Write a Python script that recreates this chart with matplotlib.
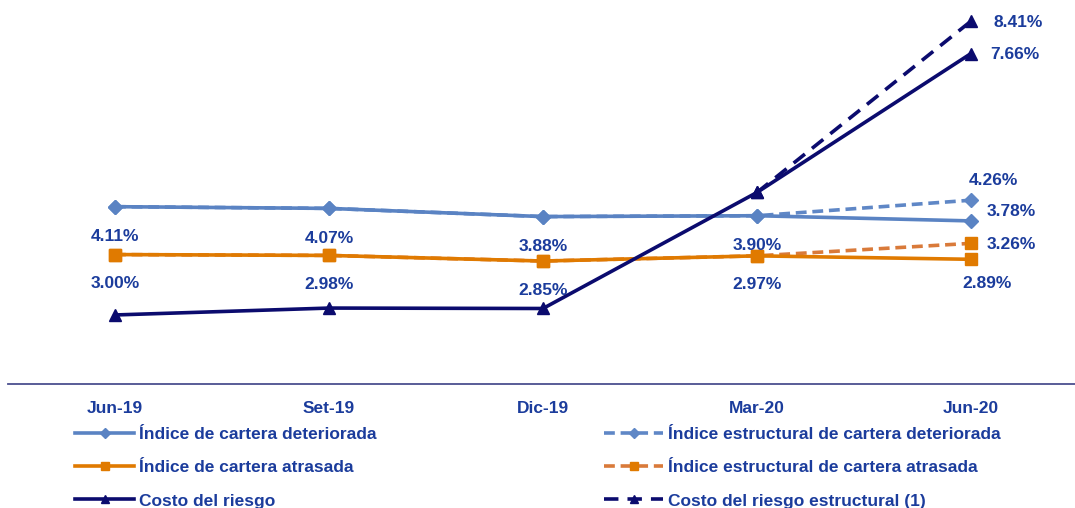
import matplotlib
matplotlib.use("Agg")
import matplotlib.pyplot as plt
import numpy as np

periods = ["Jun-19", "Set-19", "Dic-19", "Mar-20", "Jun-20"]
deteriorada = [4.11, 4.07, 3.88, 3.90, 3.78]
deteriorada_estr = [4.11, 4.07, 3.88, 3.90, 4.26]
atrasada = [3.00, 2.98, 2.85, 2.97, 2.89]
atrasada_estr = [3.00, 2.98, 2.85, 2.97, 3.26]
costo = [1.60, 1.76, 1.75, 4.44, 7.66]
costo_estr = [np.nan, np.nan, np.nan, 4.44, 8.41]

names_main = ["Índice de cartera deteriorada", "Índice de cartera atrasada", "Costo del riesgo"]
names_estr = ["Índice estructural de cartera deteriorada", "Índice estructural de cartera atrasada",
              "Costo del riesgo estructural (1)"]

plt.rcParams["font.family"] = ["Liberation Sans", "DejaVu Sans"]
TXT = "#1B3C9C"
C_DET = "#5A83C3"
C_DET_E = "#5F87C6"
C_ATR = "#E07A00"
C_ATR_E = "#D97A3A"
C_COS = "#0B0B6E"
FS = 12.5

fig = plt.figure(figsize=(10.75, 5.08), dpi=100)
ax = fig.add_axes([8 / 1075, 124 / 508, 1070 / 1075, 384 / 508])
x = np.arange(len(periods))

lw = 2.6
h_det, = ax.plot(x, deteriorada, color=C_DET, lw=lw, marker="D", ms=6.8, zorder=3)
h_det_e, = ax.plot(x, deteriorada_estr, color=C_DET_E, lw=lw, ls=(0, (3, 1.6)), marker="D", ms=6.8, zorder=2)
h_atr, = ax.plot(x, atrasada, color=C_ATR, lw=lw, marker="s", ms=8.5, zorder=3)
h_atr_e, = ax.plot(x, atrasada_estr, color=C_ATR_E, lw=lw, ls=(0, (3, 1.6)), marker="s", ms=8.5,
                   markerfacecolor=C_ATR, markeredgecolor=C_ATR, zorder=2)
h_cos, = ax.plot(x, costo, color=C_COS, lw=lw, marker="^", ms=8, zorder=5)
h_cos_e, = ax.plot(x, costo_estr, color=C_COS, lw=lw, ls=(0, (4, 2.5)), marker="^", ms=8, zorder=4)

ax.set_xlim(-0.5, 4.5)
ax.set_ylim(0, 8.9)

lab = dict(color=TXT, fontsize=FS, fontweight="bold")
pt2 = 1 / 43.1  # data units per pixel
for i in range(4):
    ax.text(x[i], deteriorada[i] - 30 * pt2, f"{deteriorada[i]:.2f}%", ha="center", va="center", **lab)
    ax.text(x[i], atrasada[i] - 29 * pt2, f"{atrasada[i]:.2f}%", ha="center", va="center", **lab)

dx = 16 / 214
ax.text(x[4] + dx, deteriorada[4] + 9 * pt2, f"{deteriorada[4]:.2f}%", ha="left", va="center", **lab)
ax.text(x[4] + 22 / 214, deteriorada_estr[4] + 20 * pt2, f"{deteriorada_estr[4]:.2f}%", ha="center", va="center", **lab)
ax.text(x[4] + dx, atrasada_estr[4] - 1 * pt2, f"{atrasada_estr[4]:.2f}%", ha="left", va="center", **lab)
ax.text(x[4] + 16 / 214, atrasada[4] - 24 * pt2, f"{atrasada[4]:.2f}%", ha="center", va="center", **lab)
ax.text(x[4] + 19 / 214, costo[4] - 1 * pt2, f"{costo[4]:.2f}%", ha="left", va="center", **lab)
ax.text(x[4] + 23 / 214, costo_estr[4] - 1 * pt2, f"{costo_estr[4]:.2f}%", ha="left", va="center", **lab)

for s in ["top", "right", "left"]:
    ax.spines[s].set_visible(False)
ax.spines["bottom"].set_color("#4B4F8F")
ax.spines["bottom"].set_linewidth(1.3)
ax.set_yticks([])
ax.set_xticks(x)
ax.set_xticklabels(periods)
ax.tick_params(axis="x", length=0, pad=12, labelsize=FS, labelcolor=TXT)
for t in ax.get_xticklabels():
    t.set_fontweight("bold")

leg_kw = dict(loc="upper left", frameon=False, handlelength=3.4, handletextpad=0.3,
              labelspacing=1.04, borderpad=0, borderaxespad=0,
              prop={"weight": "bold", "size": FS}, markerscale=0.75)
leg1 = fig.legend([h_det, h_atr, h_cos], names_main,
                  bbox_to_anchor=(75 / 1075, 1 - 427 / 508), **leg_kw)
leg2 = fig.legend([h_det_e, h_atr_e, h_cos_e], names_estr,
                  bbox_to_anchor=(604 / 1075, 1 - 427 / 508), **leg_kw)
for leg in (leg1, leg2):
    for t in leg.get_texts():
        t.set_color(TXT)

fig.savefig("out.png", dpi=100)
